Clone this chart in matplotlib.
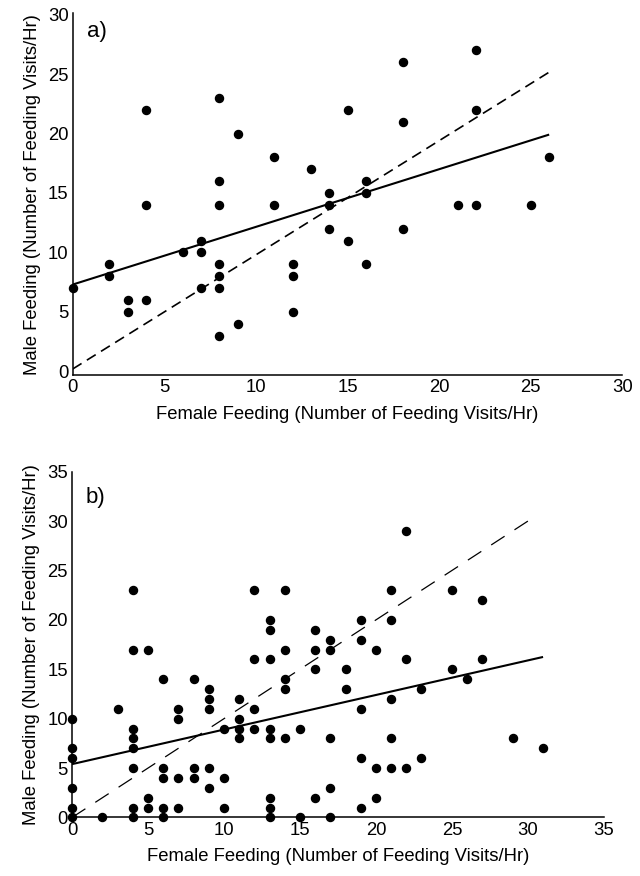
import numpy as np
import matplotlib
matplotlib.use("Agg")
import matplotlib.pyplot as plt

plt.rcParams['font.family'] = ['Liberation Sans', 'DejaVu Sans']
plt.rcParams['lines.scale_dashes'] = False

# panel a) female vs male feeding visits per hour
female_a = [0, 2, 2, 3, 3, 4, 4, 4, 6, 7, 7, 7, 8, 8, 8, 8, 8, 8, 8, 9, 9,
            11, 11, 12, 12, 12, 13, 14, 14, 14, 15, 15, 16, 16, 16, 18, 18, 18,
            21, 22, 22, 22, 25, 26]
male_a = [7, 9, 8, 6, 5, 22, 14, 6, 10, 11, 10, 7, 23, 16, 14, 9, 8, 7, 3, 20, 4,
          18, 14, 9, 8, 5, 17, 15, 14, 12, 22, 11, 16, 15, 9, 26, 21, 12,
          14, 27, 22, 14, 14, 18]

# panel b)
female_b = [0, 0, 0, 0, 0, 0,
            2,
            3,
            4, 4, 4, 4, 4, 4, 4, 4,
            5, 5, 5,
            6, 6, 6, 6, 6,
            7, 7, 7, 7,
            8, 8, 8,
            9, 9, 9, 9, 9,
            10, 10, 10,
            11, 11, 11, 11,
            12, 12, 12, 12,
            13, 13, 13, 13, 13, 13, 13, 13,
            14, 14, 14, 14, 14,
            15, 15,
            16, 16, 16, 16,
            17, 17, 17, 17, 17,
            18, 18,
            19, 19, 19, 19, 19,
            20, 20, 20,
            21, 21, 21, 21, 21,
            22, 22, 22,
            23, 23,
            25, 25,
            26,
            27, 27,
            29,
            31]
male_b = [10, 7, 6, 3, 1, 0,
          0,
          11,
          23, 17, 9, 8, 7, 5, 1, 0,
          17, 2, 1,
          14, 5, 4, 1, 0,
          11, 10, 4, 1,
          14, 5, 4,
          13, 12, 11, 5, 3,
          9, 4, 1,
          12, 10, 9, 8,
          23, 16, 11, 9,
          20, 19, 16, 9, 8, 2, 1, 0,
          23, 17, 14, 13, 8,
          9, 0,
          19, 17, 15, 2,
          18, 17, 8, 3, 0,
          15, 13,
          20, 18, 11, 6, 1,
          17, 5, 2,
          23, 20, 12, 8, 5,
          29, 16, 5,
          13, 6,
          23, 15,
          14,
          22, 16,
          8,
          7]

# fitted lines: (intercept, slope, x end)
solid_a = (7.3, 0.485, 26)
dashed_a = (0.2, 0.96, 26)
solid_b = (5.4, 0.35, 31)
dashed_b = (0.0, 1.0, 30.2)

xlabel = 'Female Feeding (Number of Feeding Visits/Hr)'
ylabel = 'Male Feeding (Number of Feeding Visits/Hr)'

fig = plt.figure(figsize=(6.4, 8.76), dpi=100)
ax_a = fig.add_axes([0.1136, 0.572, 0.859, 0.4127])
ax_b = fig.add_axes([0.1125, 0.0668, 0.831, 0.3947])


def draw_panel(ax, fx, my, solid, dashed, dash_style, dash_lw, lim, tag, tag_y):
    a, b, xe = solid
    xs = np.array([0, xe])
    ax.plot(xs, a + b * xs, color='black', lw=1.5, solid_capstyle='butt')
    a, b, xe = dashed
    xs = np.array([0, xe])
    ax.plot(xs, a + b * xs, color='black', lw=dash_lw, dashes=dash_style)
    ax.plot(fx, my, 'o', color='black', markersize=5.8, clip_on=False, zorder=3)
    ax.set_xlim(0, lim)
    for side in ['top', 'right']:
        ax.spines[side].set_visible(False)
    for side in ['left', 'bottom']:
        ax.spines[side].set_linewidth(1.1)
    ax.tick_params(length=0, labelsize=13.3, pad=3)
    ax.set_xlabel(xlabel, fontsize=13.3, labelpad=7)
    ax.set_ylabel(ylabel, fontsize=13.3, labelpad=5)
    ax.text(0.026, tag_y, tag, transform=ax.transAxes, fontsize=16,
            ha='left', va='center')


draw_panel(ax_a, female_a, male_a, solid_a, dashed_a, (7.5, 4.5), 1.2, 30, 'a)', 0.95)
ax_a.set_ylim(-0.3, 30.1)
ax_a.set_xticks(range(0, 31, 5))
ax_a.set_yticks(range(0, 31, 5))

draw_panel(ax_b, female_b, male_b, solid_b, dashed_b, (11.5, 8.5), 0.9, 35, 'b)', 0.925)
ax_b.set_ylim(0, 35)
ax_b.set_xticks(range(0, 36, 5))
ax_b.set_yticks(range(0, 36, 5))

fig.savefig('out.png', dpi=100)
